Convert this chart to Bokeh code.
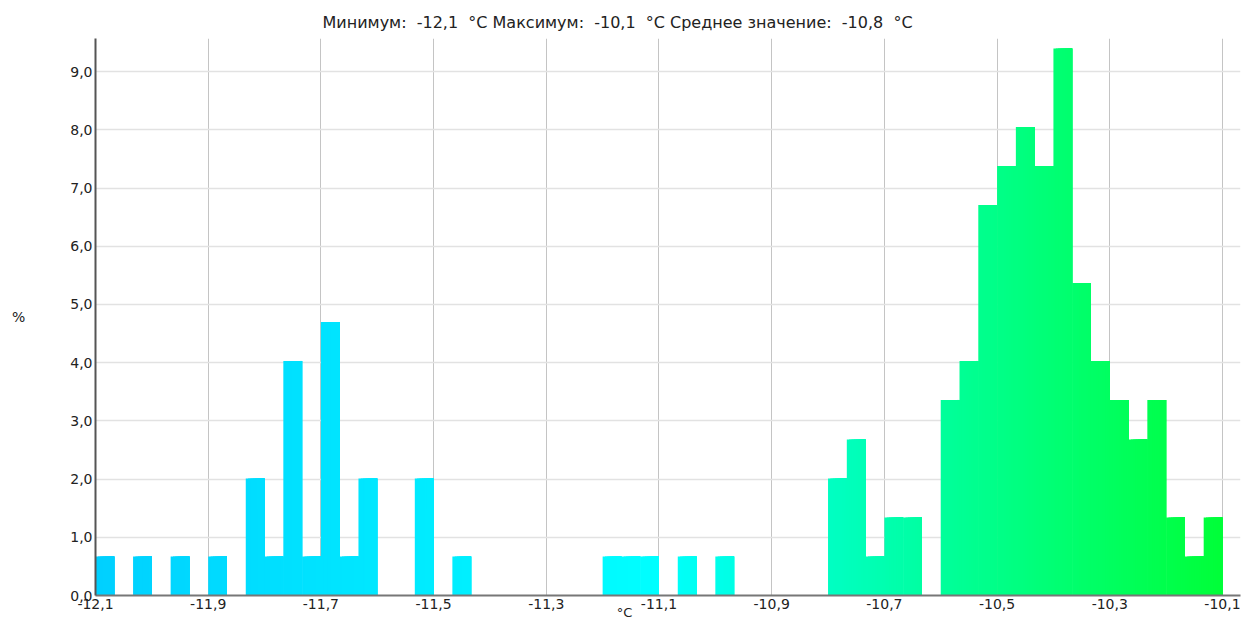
import numpy as np
from bokeh.plotting import figure
from bokeh.models import Range1d, FixedTicker, CustomJSTickFormatter, ColumnDataSource
from bokeh.embed import file_html
from bokeh.resources import INLINE

# ---- data ----
x_min = -12.1
x_max = -10.1
percent = [
    0.67, 0.00, 0.67, 0.00, 0.67, 0.00, 0.67, 0.00, 2.01, 0.67,
    4.03, 0.67, 4.70, 0.67, 2.01, 0.00, 0.00, 2.01, 0.00, 0.67,
    0.00, 0.00, 0.00, 0.00, 0.00, 0.00, 0.00, 0.67, 0.67, 0.67,
    0.00, 0.67, 0.00, 0.67, 0.00, 0.00, 0.00, 0.00, 0.00, 2.01,
    2.68, 0.67, 1.34, 1.34, 0.00, 3.36, 4.03, 6.71, 7.38, 8.05,
    7.38, 9.40, 5.37, 4.03, 3.36, 2.68, 3.36, 1.34, 0.67, 1.34,
]
x_ticks = [-12.1, -11.9, -11.7, -11.5, -11.3, -11.1, -10.9, -10.7, -10.5, -10.3, -10.1]
y_ticks = [0, 1, 2, 3, 4, 5, 6, 7, 8, 9]
title_text = "Минимум:\u00a0 -12,1\u00a0 °C Максимум:\u00a0 -10,1\u00a0 °C Среднее значение:\u00a0 -10,8\u00a0 °C"
x_label = "°C"
y_label = "%"

# colour gradient stops (along x)
stop_x = [-12.1, -11.1, -10.1]
stop_g = [208, 255, 255]
stop_b = [255, 255, 56]

# ---- build gradient slices of each bar ----
n_bins = len(percent)
w = (x_max - x_min) / n_bins
n_sub = 8
lefts, rights, tops, colors = [], [], [], []
for i, v in enumerate(percent):
    if v <= 0:
        continue
    bar_r = x_min + (i + 1) * w
    for k in range(n_sub):
        l = x_min + (i + k / n_sub) * w
        c = x_min + (i + (k + 0.5) / n_sub) * w
        g = int(round(np.interp(c, stop_x, stop_g)))
        b = int(round(np.interp(c, stop_x, stop_b)))
        lefts.append(l)
        rights.append(bar_r)
        tops.append(v)
        colors.append("#%02x%02x%02x" % (0, g, b))

src = ColumnDataSource(dict(left=lefts, right=rights, top=tops, bottom=[0] * len(tops), color=colors))

p = figure(frame_width=1145, frame_height=557,
           x_range=Range1d(x_min, -10.068), y_range=Range1d(0, 9.57),
           output_backend="svg", toolbar_location=None,
           title=title_text,
           min_border_left=95, min_border_right=3, min_border_top=38, min_border_bottom=27)
p.outline_line_color = None
p.background_fill_color = "white"
p.border_fill_color = "white"

p.title.align = "left"
p.title.offset = 227
p.title.text_font = "DejaVu Sans"
p.title.text_font_size = "16px"
p.title.text_font_style = "normal"
p.title.text_color = "#222222"
p.title.standoff = 13

p.quad(left="left", right="right", top="top", bottom="bottom", source=src,
       fill_color="color", line_color=None)

fmt = CustomJSTickFormatter(code="return tick.toFixed(1).replace('.', ',');")
p.xaxis.ticker = FixedTicker(ticks=x_ticks)
p.yaxis.ticker = FixedTicker(ticks=y_ticks)
p.xaxis.formatter = fmt
p.yaxis.formatter = fmt
for ax in (p.xaxis, p.yaxis):
    ax.major_tick_line_color = None
    ax.minor_tick_line_color = None
    ax.major_tick_out = 0
    ax.major_tick_in = 0
    ax.major_label_text_font = "DejaVu Sans"
    ax.major_label_text_font_size = "14px"
    ax.major_label_text_color = "#222222"
    ax.major_label_standoff = 3
    ax.axis_label_text_font = "DejaVu Sans"
    ax.axis_label_text_font_style = "normal"
    ax.axis_label_text_color = "#222222"

p.xaxis.axis_label = x_label + "\u00a0" * 21
p.xaxis.axis_label_text_font_size = "13px"
p.xaxis.axis_label_standoff = -7

p.yaxis.axis_label = y_label
p.yaxis.axis_label_text_font_size = "14px"
p.yaxis.axis_label_orientation = "horizontal"
p.yaxis.axis_label_standoff = 42

p.yaxis.axis_line_color = "#555555"
p.yaxis.axis_line_width = 2
p.xaxis.axis_line_color = "#777777"
p.xaxis.axis_line_width = 2

p.xgrid.grid_line_color = "#c4c4c4"
p.xgrid.grid_line_width = 1
p.ygrid.grid_line_color = "#e2e2e2"
p.ygrid.grid_line_width = 1.5

open("out.html", "w").write(file_html(p, INLINE))
